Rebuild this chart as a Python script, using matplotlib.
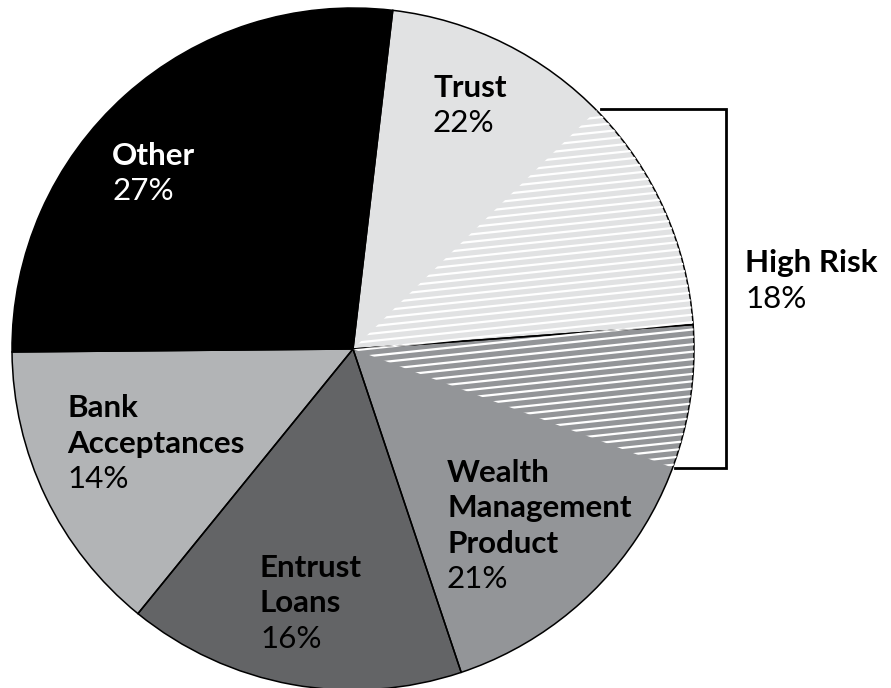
import matplotlib
matplotlib.use("Agg")

import matplotlib.pyplot as plt
import numpy as np
from matplotlib.patches import Wedge


# -------------------------------------------------
# Data
# -------------------------------------------------

categories = ["Trust", "Wealth Management Product", "Entrust Loans",
              "Bank Acceptances", "Other"]
shares = [22, 21, 16, 14, 27]
colors = ["#e1e2e3", "#939598", "#636466", "#b2b4b6", "#000000"]
text_colors = ["black", "black", "black", "black", "white"]

# high-risk part of Trust and of Wealth Management Product
high_risk_trust = 11.2
high_risk_wmp = 6.8
high_risk_total = 18

# label lines and where they go (left x, first baseline, pixel coords)
label_lines = [["Trust"], ["Wealth", "Management", "Product"],
               ["Entrust", "Loans"], ["Bank", "Acceptances"], ["Other"]]
label_pos = [(433, 97), (447, 482), (260, 577), (67, 417), (112, 165)]

W, H = 891, 688
cx, cy, r = 353, H - 349, 341
line_gap = 35.5
fs = 22.6

plt.rcParams["font.family"] = ["Lato", "DejaVu Sans"]

fig = plt.figure(figsize=(W / 100, H / 100), dpi=100)
ax = fig.add_axes([0, 0, 1, 1])

# -------------------------------------------------
# Pie wedges
# -------------------------------------------------

wedges, _ = ax.pie(
    shares,
    center=(cx, cy),
    radius=r,
    startangle=83.3,
    counterclock=False,
    colors=colors,
    wedgeprops=dict(linewidth=0),
)

ax.set_xlim(0, W)
ax.set_ylim(0, H)
ax.set_aspect("equal")
ax.axis("off")

# -------------------------------------------------
# High risk hatching (white stripes)
# -------------------------------------------------

trust_w, wmp_w = wedges[0], wedges[1]
hatch_start = trust_w.theta1 + high_risk_trust * 3.6
hatch_end = wmp_w.theta2 - high_risk_wmp * 3.6

hatch_parts = [
    Wedge((cx, cy), r, trust_w.theta1, hatch_start),
    Wedge((cx, cy), r, hatch_end, wmp_w.theta2),
]

tilt = np.tan(np.radians(6))
xs = np.array([cx - 20, cx + r + 20])
for part in hatch_parts:
    part.set_facecolor("none")
    part.set_edgecolor("none")
    ax.add_patch(part)
    for y0 in np.arange(cy - r - 60, cy + r + 60, 7.4):
        ln, = ax.plot(xs, y0 + tilt * (xs - cx), color="white",
                      linewidth=1.6, solid_capstyle="butt")
        ln.set_clip_path(part)

# outlines on top
for w in wedges:
    ax.add_patch(Wedge((cx, cy), r, w.theta1, w.theta2,
                       facecolor="none", edgecolor="black", linewidth=1.1))

# -------------------------------------------------
# Labels
# -------------------------------------------------

for lines, share, (lx, ly), tc in zip(label_lines, shares, label_pos,
                                      text_colors):
    for i, line in enumerate(lines):
        ax.text(lx, H - (ly + i * line_gap), line, fontsize=fs,
                fontweight="bold", color=tc, va="baseline", ha="left")
    ax.text(lx, H - (ly + len(lines) * line_gap), f"{share}%",
            fontsize=fs, color=tc, va="baseline", ha="left")

# -------------------------------------------------
# High risk bracket
# -------------------------------------------------

a1, a2 = np.radians(hatch_start), np.radians(hatch_end)
p1 = (cx + r * np.cos(a1), cy + r * np.sin(a1))
p2 = (cx + r * np.cos(a2), cy + r * np.sin(a2))
bx = 726
ax.plot([p1[0] + 4, bx, bx, p2[0] + 2], [p1[1] + 1, p1[1] + 1, p2[1], p2[1]],
        color="black", linewidth=2, solid_joinstyle="miter")

ax.text(745, H - 272, "High Risk", fontsize=fs, fontweight="bold",
        va="baseline", ha="left")
ax.text(745, H - 272 - line_gap, f"{high_risk_total}%", fontsize=fs,
        va="baseline", ha="left")

fig.savefig("out.png", dpi=100)
plt.close(fig)
